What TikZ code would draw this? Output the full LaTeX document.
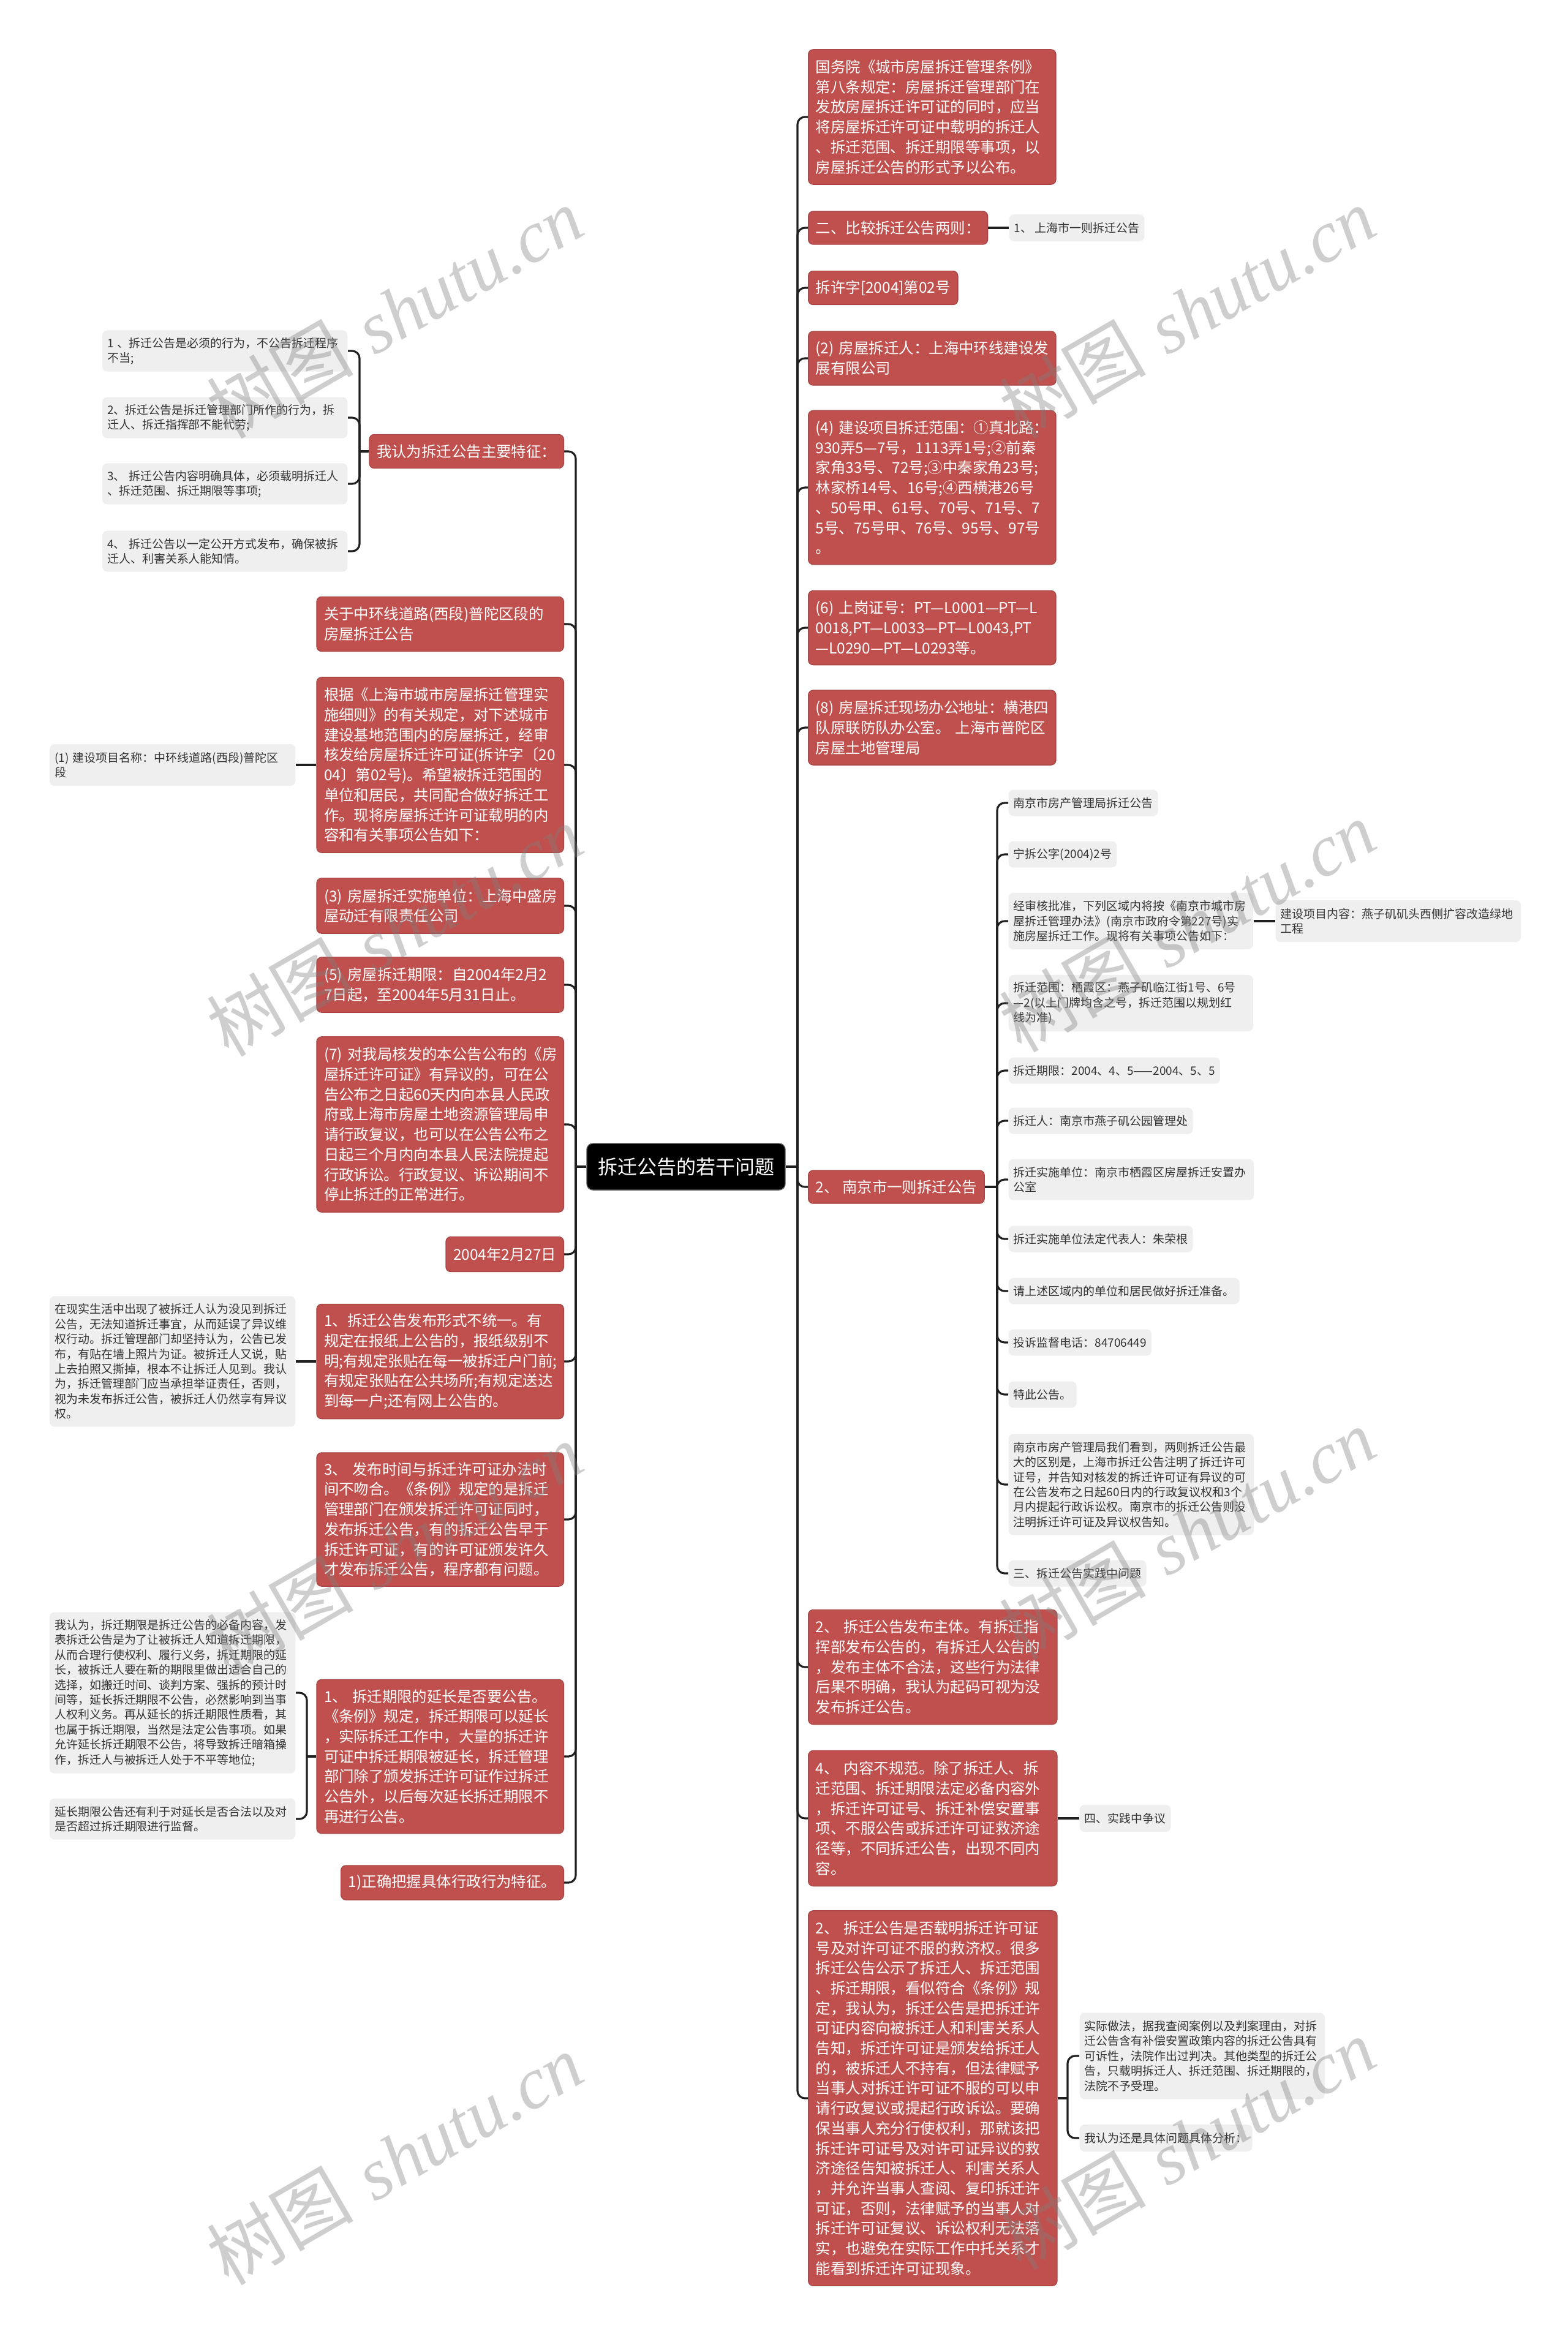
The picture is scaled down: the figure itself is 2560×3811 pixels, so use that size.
\documentclass[tikz,border=0pt]{standalone}
\usepackage{fontspec}
\setmainfont{Noto Sans CJK SC}
\newfontfamily\wmlatin{Liberation Serif}
\definecolor{redc}{HTML}{C0504D}
\definecolor{grayc}{HTML}{EFEFEF}
\definecolor{graytext}{HTML}{333333}
\newcommand{\redfont}{\fontsize{6.95pt}{9.3pt}\selectfont}
\newcommand{\grayfont}{\fontsize{5.4pt}{6.95pt}\selectfont}
\newcommand{\centerfont}{\fontsize{9.1pt}{11pt}\selectfont}
\newcommand{\wmfont}{\fontsize{34pt}{40pt}\selectfont}
\tikzset{
  rnode/.style={rectangle, rounded corners=0.08cm, fill=redc, draw=redc!88!black, line width=0.4pt, text=white, font=\redfont, align=left, inner xsep=0.12cm, inner ysep=0.08cm},
  rnodeR/.style={rnode, anchor=west},
  rnodeL/.style={rnode, anchor=east},
  gnode/.style={rectangle, rounded corners=0.08cm, fill=grayc, text=graytext, font=\grayfont, align=left, inner xsep=0.08cm, inner ysep=0.07cm},
  gnodeR/.style={gnode, anchor=west},
  gnodeL/.style={gnode, anchor=east},
  cnode/.style={rectangle, rounded corners=0.1cm, fill=black, draw=black!60, line width=0.4pt, text=white, font=\centerfont, inner xsep=0.18cm, minimum height=0.76cm},
  conn/.style={draw=black!88, line width=0.9pt, rounded corners=0.12cm},
  wm/.style={rotate=30, text=black!50, text opacity=0.38, font=\wmfont}
}
\begin{document}
\begin{tikzpicture}[x=0.01cm, y=-0.01cm]
\fill[white] (0,0) rectangle (2560,3811);
\useasboundingbox (0,0) rectangle (2560,3811);

% centre
\node[cnode] (c) at (1120,1905) {拆迁公告的若干问题};
\coordinate (rsp) at (1302,1905);
\coordinate (lsp) at (940,1905);
\coordinate (nspx) at (1628,0);
\coordinate (s1x) at (587,0);
\coordinate (s10x) at (501,0);
\coordinate (s11x) at (1743,0);

% right column
\node[rnodeR, text width=3.80cm, minimum height=2.20cm] (r1) at (1319,191) {国务院《城市房屋拆迁管理条例》\\第八条规定：房屋拆迁管理部门在\\发放房屋拆迁许可证的同时，应当\\将房屋拆迁许可证中载明的拆迁人\\、拆迁范围、拆迁期限等事项，以\\房屋拆迁公告的形式予以公布。};
\node[rnodeR, minimum height=0.54cm] (r2) at (1319,372) {二、比较拆迁公告两则：};
\node[gnodeR, minimum height=0.44cm] (r2c) at (1647,372) {1、~上海市一则拆迁公告};
\node[rnodeR, minimum height=0.55cm] (r3) at (1319,470) {拆许字[2004]第02号};
\node[rnodeR, text width=3.80cm, minimum height=0.88cm] (r4) at (1319,585) {(2)~房屋拆迁人：上海中环线建设发\\展有限公司};
\node[rnodeR, text width=3.80cm, minimum height=2.51cm] (r5) at (1319,796) {(4)~建设项目拆迁范围：①真北路：\\930弄5—7号，1113弄1号;②前秦\\家角33号、72号;③中秦家角23号;\\林家桥14号、16号;④西横港26号\\、50号甲、61号、70号、71号、7\\5号、75号甲、76号、95号、97号\\。};
\node[rnodeR, text width=3.80cm, minimum height=1.21cm] (r6) at (1319,1025) {(6)~上岗证号：PT—L0001—PT—L\\0018,PT—L0033—PT—L0043,PT\\—L0290—PT—L0293等。};
\node[rnodeR, text width=3.80cm, minimum height=1.22cm] (r7) at (1319,1188) {(8)~房屋拆迁现场办公地址：横港四\\队原联防队办公室。~上海市普陀区\\房屋土地管理局};
\node[rnodeR, minimum height=0.54cm] (r8) at (1319,1938) {2、~南京市一则拆迁公告};

% Nanjing children
\node[gnodeR, minimum height=0.43cm] (na) at (1646,1311) {南京市房产管理局拆迁公告};
\node[gnodeR, minimum height=0.43cm] (nb) at (1646,1395) {宁拆公字(2004)2号};
\node[gnodeR, text width=3.83cm, minimum height=0.92cm] (nc) at (1646,1504) {经审核批准，下列区域内将按《南京市城市房\\屋拆迁管理办法》(南京市政府令第227号)实\\施房屋拆迁工作。现将有关事项公告如下：};
\node[gnodeR, text width=3.84cm, minimum height=0.68cm] (ncc) at (2082,1504) {建设项目内容：燕子矶矶头西侧扩容改造绿地\\工程};
\node[gnodeR, text width=3.83cm, minimum height=0.92cm] (nd) at (1646,1638) {拆迁范围：栖霞区：燕子矶临江街1号、6号\\—2(以上门牌均含之号，拆迁范围以规划红\\线为准)};
\node[gnodeR, minimum height=0.43cm] (ne) at (1646,1748) {拆迁期限：2004、4、5——2004、5、5};
\node[gnodeR, minimum height=0.43cm] (nf) at (1646,1830) {拆迁人：南京市燕子矶公园管理处};
\node[gnodeR, text width=3.84cm, minimum height=0.67cm] (ng) at (1646,1926) {拆迁实施单位：南京市栖霞区房屋拆迁安置办\\公室};
\node[gnodeR, minimum height=0.43cm] (nh) at (1646,2023) {拆迁实施单位法定代表人：朱荣根};
\node[gnodeR, minimum height=0.43cm] (ni) at (1646,2108) {请上述区域内的单位和居民做好拆迁准备。};
\node[gnodeR, minimum height=0.43cm] (nj) at (1646,2192) {投诉监督电话：84706449};
\node[gnodeR, minimum height=0.43cm] (nk) at (1646,2277) {特此公告。};
\node[gnodeR, text width=3.84cm, minimum height=1.65cm] (nl) at (1646,2424) {南京市房产管理局我们看到，两则拆迁公告最\\大的区别是，上海市拆迁公告注明了拆迁许可\\证号，并告知对核发的拆迁许可证有异议的可\\在公告发布之日起60日内的行政复议权和3个\\月内提起行政诉讼权。南京市的拆迁公告则没\\注明拆迁许可证及异议权告知。};
\node[gnodeR, minimum height=0.43cm] (nm) at (1646,2569) {三、拆迁公告实践中问题};

\node[rnodeR, text width=3.82cm, minimum height=1.87cm] (r9) at (1319,2722) {2、~拆迁公告发布主体。有拆迁指\\挥部发布公告的，有拆迁人公告的\\，发布主体不合法，这些行为法律\\后果不明确，我认为起码可视为没\\发布拆迁公告。};
\node[rnodeR, text width=3.82cm, minimum height=2.21cm] (r10) at (1319,2969) {4、~内容不规范。除了拆迁人、拆\\迁范围、拆迁期限法定必备内容外\\，拆迁许可证号、拆迁补偿安置事\\项、不服公告或拆迁许可证救济途\\径等，不同拆迁公告，出现不同内\\容。};
\node[gnodeR, minimum height=0.44cm] (r10c) at (1762,2969) {四、实践中争议};
\node[rnodeR, text width=3.82cm, minimum height=6.12cm] (r11) at (1319,3426) {2、~拆迁公告是否载明拆迁许可证\\号及对许可证不服的救济权。很多\\拆迁公告公示了拆迁人、拆迁范围\\、拆迁期限，看似符合《条例》规\\定，我认为，拆迁公告是把拆迁许\\可证内容向被拆迁人和利害关系人\\告知，拆迁许可证是颁发给拆迁人\\的，被拆迁人不持有，但法律赋予\\当事人对拆迁许可证不服的可以申\\请行政复议或提起行政诉讼。要确\\保当事人充分行使权利，那就该把\\拆迁许可证号及对许可证异议的救\\济途径告知被拆迁人、利害关系人\\，并允许当事人查阅、复印拆迁许\\可证，否则，法律赋予的当事人对\\拆迁许可证复议、诉讼权利无法落\\实，也避免在实际工作中托关系才\\能看到拆迁许可证现象。};
\node[gnodeR, text width=3.84cm, minimum height=1.41cm] (r11a) at (1762,3357) {实际做法，据我查阅案例以及判案理由，对拆\\迁公告含有补偿安置政策内容的拆迁公告具有\\可诉性，法院作出过判决。其他类型的拆迁公\\告，只载明拆迁人、拆迁范围、拆迁期限的，\\法院不予受理。};
\node[gnodeR, minimum height=0.44cm] (r11b) at (1762,3491) {我认为还是具体问题具体分析：};

% left column
\node[rnodeL, minimum height=0.55cm] (l1) at (921,737) {我认为拆迁公告主要特征：};
\node[gnodeL, text width=3.84cm, minimum height=0.67cm] (l1a) at (568,573) {1~、拆迁公告是必须的行为，不公告拆迁程序\\不当;};
\node[gnodeL, text width=3.84cm, minimum height=0.67cm] (l1b) at (568,682) {2、拆迁公告是拆迁管理部门所作的行为，拆\\迁人、拆迁指挥部不能代劳;};
\node[gnodeL, text width=3.84cm, minimum height=0.67cm] (l1c) at (568,790) {3、~拆迁公告内容明确具体，必须载明拆迁人\\、拆迁范围、拆迁期限等事项;};
\node[gnodeL, text width=3.84cm, minimum height=0.67cm] (l1d) at (568,900) {4、~拆迁公告以一定公开方式发布，确保被拆\\迁人、利害关系人能知情。};
\node[rnodeL, text width=3.79cm, minimum height=0.89cm] (l2) at (921,1019) {关于中环线道路(西段)普陀区段的\\房屋拆迁公告};
\node[rnodeL, text width=3.79cm, minimum height=2.86cm] (l3) at (921,1249) {根据《上海市城市房屋拆迁管理实\\施细则》的有关规定，对下述城市\\建设基地范围内的房屋拆迁，经审\\核发给房屋拆迁许可证(拆许字〔20\\04〕第02号)。希望被拆迁范围的\\单位和居民，共同配合做好拆迁工\\作。现将房屋拆迁许可证载明的内\\容和有关事项公告如下：};
\node[gnodeL, text width=3.85cm, minimum height=0.68cm] (l3c) at (483,1249) {(1)~建设项目名称：中环线道路(西段)普陀区\\段};
\node[rnodeL, text width=3.79cm, minimum height=0.90cm] (l4) at (921,1479) {(3)~房屋拆迁实施单位：上海中盛房\\屋动迁有限责任公司};
\node[rnodeL, text width=3.79cm, minimum height=0.90cm] (l5) at (921,1608) {(5)~房屋拆迁期限：自2004年2月2\\7日起，至2004年5月31日止。};
\node[rnodeL, text width=3.79cm, minimum height=2.86cm] (l6) at (921,1836) {(7)~对我局核发的本公告公布的《房\\屋拆迁许可证》有异议的，可在公\\告公布之日起60天内向本县人民政\\府或上海市房屋土地资源管理局申\\请行政复议，也可以在公告公布之\\日起三个月内向本县人民法院提起\\行政诉讼。行政复议、诉讼期间不\\停止拆迁的正常进行。};
\node[rnodeL, minimum height=0.57cm] (l7) at (921,2048) {2004年2月27日};
\node[rnodeL, text width=3.79cm, minimum height=1.87cm] (l8) at (921,2223) {1、拆迁公告发布形式不统一。有\\规定在报纸上公告的，报纸级别不\\明;有规定张贴在每一被拆迁户门前;\\有规定张贴在公共场所;有规定送达\\到每一户;还有网上公告的。};
\node[gnodeL, text width=3.85cm, minimum height=2.13cm] (l8c) at (483,2223) {在现实生活中出现了被拆迁人认为没见到拆迁\\公告，无法知道拆迁事宜，从而延误了异议维\\权行动。拆迁管理部门却坚持认为，公告已发\\布，有贴在墙上照片为证。被拆迁人又说，贴\\上去拍照又撕掉，根本不让拆迁人见到。我认\\为，拆迁管理部门应当承担举证责任，否则，\\视为未发布拆迁公告，被拆迁人仍然享有异议\\权。};
\node[rnodeL, text width=3.79cm, minimum height=2.18cm] (l9) at (921,2481) {3、~发布时间与拆迁许可证办法时\\间不吻合。《条例》规定的是拆迁\\管理部门在颁发拆迁许可证同时，\\发布拆迁公告，有的拆迁公告早于\\拆迁许可证，有的许可证颁发许久\\才发布拆迁公告，程序都有问题。};
\node[rnodeL, text width=3.79cm, minimum height=2.51cm] (l10) at (921,2868) {1、~拆迁期限的延长是否要公告。\\《条例》规定，拆迁期限可以延长\\，实际拆迁工作中，大量的拆迁许\\可证中拆迁期限被延长，拆迁管理\\部门除了颁发拆迁许可证作过拆迁\\公告外，以后每次延长拆迁期限不\\再进行公告。};
\node[gnodeL, text width=3.85cm, minimum height=2.63cm] (l10a) at (483,2764) {我认为，拆迁期限是拆迁公告的必备内容，发\\表拆迁公告是为了让被拆迁人知道拆迁期限，\\从而合理行使权利、履行义务，拆迁期限的延\\长，被拆迁人要在新的期限里做出适合自己的\\选择，如搬迁时间、谈判方案、强拆的预计时\\间等，延长拆迁期限不公告，必然影响到当事\\人权利义务。再从延长的拆迁期限性质看，其\\也属于拆迁期限，当然是法定公告事项。如果\\允许延长拆迁期限不公告，将导致拆迁暗箱操\\作，拆迁人与被拆迁人处于不平等地位;};
\node[gnodeL, text width=3.85cm, minimum height=0.67cm] (l10b) at (483,2970) {延长期限公告还有利于对延长是否合法以及对\\是否超过拆迁期限进行监督。};
\node[rnodeL, minimum height=0.56cm] (l11) at (921,3074) {1)正确把握具体行政行为特征。};

% connectors: centre to spines
\draw[conn] (c.east) -- (rsp);
\draw[conn] (c.west) -- (lsp);
\foreach \n in {r1,r2,r3,r4,r5,r6,r7,r8,r9,r10,r11}
  \draw[conn] (rsp) |- (\n.west);
\foreach \n in {l1,l2,l3,l4,l5,l6,l7,l8,l9,l10,l11}
  \draw[conn] (lsp) |- (\n.east);
% second level
\draw[conn] (r2.east) -- (r2c.west);
\draw[conn] (r8.east) -- (r8.east -| nspx);
\foreach \n in {na,nb,nc,nd,ne,nf,ng,nh,ni,nj,nk,nl,nm}
  \draw[conn] (r8.east -| nspx) |- (\n.west);
\draw[conn] (nc.east) -- (ncc.west);
\draw[conn] (r10.east) -- (r10c.west);
\draw[conn] (r11.east) -- (r11.east -| s11x);
\foreach \n in {r11a,r11b}
  \draw[conn] (r11.east -| s11x) |- (\n.west);
\draw[conn] (l1.west) -- (l1.west -| s1x);
\foreach \n in {l1a,l1b,l1c,l1d}
  \draw[conn] (l1.west -| s1x) |- (\n.east);
\draw[conn] (l3.west) -- (l3c.east);
\draw[conn] (l8.west) -- (l8c.east);
\draw[conn] (l10.west) -- (l10.west -| s10x);
\foreach \n in {l10a,l10b}
  \draw[conn] (l10.west -| s10x) |- (\n.east);

% watermarks
\node[wm] (wm1) at (644,510) {树图\hspace{0.3em}{\wmlatin\itshape shutu.cn}};
\node[wm] (wm2) at (1938,510) {树图\hspace{0.3em}{\wmlatin\itshape shutu.cn}};
\node[wm] (wm3) at (644,1519) {树图\hspace{0.3em}{\wmlatin\itshape shutu.cn}};
\node[wm] (wm4) at (1938,1512) {树图\hspace{0.3em}{\wmlatin\itshape shutu.cn}};
\node[wm] (wm5) at (644,2528) {树图\hspace{0.3em}{\wmlatin\itshape shutu.cn}};
\node[wm] (wm6) at (1938,2504) {树图\hspace{0.3em}{\wmlatin\itshape shutu.cn}};
\node[wm] (wm7) at (644,3525) {树图\hspace{0.3em}{\wmlatin\itshape shutu.cn}};
\node[wm] (wm8) at (1938,3500) {树图\hspace{0.3em}{\wmlatin\itshape shutu.cn}};
\end{tikzpicture}
\end{document}
